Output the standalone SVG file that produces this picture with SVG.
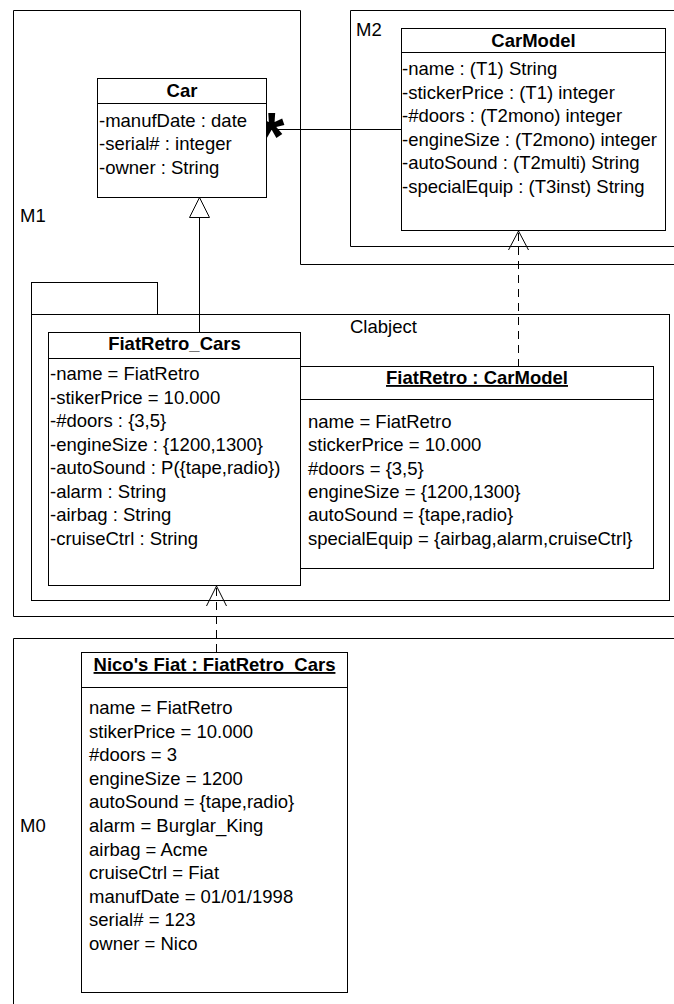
<svg xmlns="http://www.w3.org/2000/svg" width="674" height="1004" viewBox="0 0 674 1004">
<style>
  .frame { fill: none; stroke: #000; stroke-width: 1; }
  .box { fill: #fff; stroke: #000; stroke-width: 1; }
  .sep { stroke: #000; stroke-width: 1; }
  text { font-family: "Liberation Sans", Arial, sans-serif; font-size: 18.5px; fill: #000; }
  .title { font-weight: bold; text-anchor: middle; }
  .inst { text-decoration: underline; }
  .conn { fill: none; stroke: #000; stroke-width: 1; }
  .dash { stroke-dasharray: 8 6; }
  .star { font-weight: bold; font-size: 66px; text-anchor: middle; }
</style>
<rect width="674" height="1004" fill="#fff"/>

<g id="frame-M1">
  <path class="frame" d="M674,264.5 H300.5 V10.5 H13.5 V616.5 H674"/>
  <text x="20" y="222">M1</text>
</g>
<g id="frame-M2">
  <path class="frame" d="M674,10.5 H350.5 V246.5 H674"/>
  <text x="356" y="36">M2</text>
</g>
<g id="frame-M0">
  <path class="frame" d="M674,638.5 H13.5 V1004"/>
  <text x="20" y="832">M0</text>
</g>
<g id="pkg-Clabject">
  <rect class="frame" x="31.5" y="282.5" width="126" height="32"/>
  <rect class="frame" x="31.5" y="314.5" width="638" height="286"/>
  <text x="350" y="333">Clabject</text>
</g>

<g id="connectors">
  <line class="conn" x1="266" y1="129.5" x2="401" y2="129.5"/>
  <line class="conn" x1="199.5" y1="217" x2="199.5" y2="332"/>
  <polygon points="199.5,197.5 189.5,217.5 209.5,217.5" fill="#fff" stroke="#000" stroke-width="1"/>
  <line class="conn dash" x1="518.5" y1="367" x2="518.5" y2="231"/>
  <polyline class="conn" points="508.5,250 518.5,231 528.5,250"/>
  <line class="conn dash" x1="216.5" y1="652" x2="216.5" y2="586"/>
  <polyline class="conn" points="206.5,606 216.5,586 226.5,606"/>
  <text class="star" x="271.5" y="159">*</text>
</g>

<g id="node-Car">
  <rect class="box" x="97.5" y="78.5" width="169" height="119"/>
  <line class="sep" x1="97.5" y1="103.5" x2="266.5" y2="103.5"/>
  <text class="title" x="182" y="97">Car</text>
  <text x="99" y="126.5">-manufDate : date</text>
  <text x="99" y="150">-serial# : integer</text>
  <text x="99" y="173.5">-owner : String</text>
</g>

<g id="node-CarModel">
  <rect class="box" x="401.5" y="28.5" width="264" height="202"/>
  <line class="sep" x1="401.5" y1="52.5" x2="665.5" y2="52.5"/>
  <text class="title" x="533.5" y="47">CarModel</text>
  <text x="402" y="75">-name : (T1) String</text>
  <text x="402" y="98.5">-stickerPrice : (T1) integer</text>
  <text x="402" y="122">-#doors : (T2mono) integer</text>
  <text x="402" y="145.5">-engineSize : (T2mono) integer</text>
  <text x="402" y="169">-autoSound : (T2multi) String</text>
  <text x="402" y="192.5">-specialEquip : (T3inst) String</text>
</g>

<g id="node-FiatRetroCarModel">
  <rect class="box" x="300.5" y="366.5" width="353" height="202"/>
  <line class="sep" x1="300.5" y1="399.5" x2="653.5" y2="399.5"/>
  <text class="title inst" x="477" y="384">FiatRetro : CarModel</text>
  <text x="308" y="428">name = FiatRetro</text>
  <text x="308" y="451.3">stickerPrice = 10.000</text>
  <text x="308" y="474.6">#doors = {3,5}</text>
  <text x="308" y="497.9">engineSize = {1200,1300}</text>
  <text x="308" y="521.2">autoSound = {tape,radio}</text>
  <text x="308" y="544.5">specialEquip = {airbag,alarm,cruiseCtrl}</text>
</g>

<g id="node-FiatRetroCars">
  <rect class="box" x="48.5" y="332.5" width="252" height="253"/>
  <line class="sep" x1="48.5" y1="358.5" x2="300.5" y2="358.5"/>
  <text class="title" x="174.5" y="350">FiatRetro_Cars</text>
  <text x="50" y="380">-name = FiatRetro</text>
  <text x="50" y="403.5">-stikerPrice = 10.000</text>
  <text x="50" y="427">-#doors : {3,5}</text>
  <text x="50" y="450.5">-engineSize : {1200,1300}</text>
  <text x="50" y="474">-autoSound : P({tape,radio})</text>
  <text x="50" y="497.5">-alarm : String</text>
  <text x="50" y="521">-airbag : String</text>
  <text x="50" y="544.5">-cruiseCtrl : String</text>
</g>

<g id="node-NicosFiat">
  <rect class="box" x="81.5" y="652.5" width="266" height="340"/>
  <line class="sep" x1="81.5" y1="687.5" x2="347.5" y2="687.5"/>
  <text class="title inst" x="214.5" y="671">Nico's Fiat : FiatRetro_Cars</text>
  <text x="89" y="714">name = FiatRetro</text>
  <text x="89" y="737.6">stikerPrice = 10.000</text>
  <text x="89" y="761.2">#doors = 3</text>
  <text x="89" y="784.8">engineSize = 1200</text>
  <text x="89" y="808.4">autoSound = {tape,radio}</text>
  <text x="89" y="832">alarm = Burglar_King</text>
  <text x="89" y="855.6">airbag = Acme</text>
  <text x="89" y="879.2">cruiseCtrl = Fiat</text>
  <text x="89" y="902.8">manufDate = 01/01/1998</text>
  <text x="89" y="926.4">serial# = 123</text>
  <text x="89" y="950">owner = Nico</text>
</g>
</svg>
